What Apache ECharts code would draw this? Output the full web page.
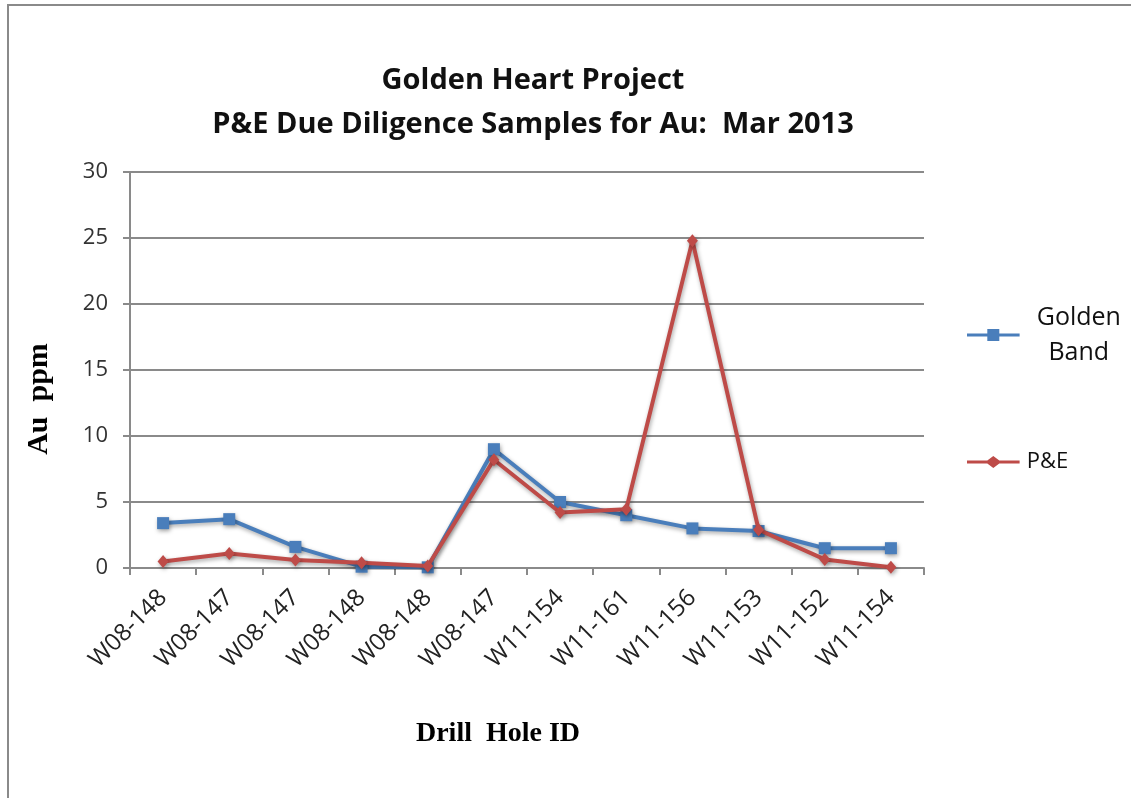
<!DOCTYPE html>
<html>
<head>
<meta charset="utf-8">
<title>Golden Heart Project</title>
<script src="https://cdn.jsdelivr.net/npm/echarts@6/dist/echarts.min.js"></script>
<style>
  html, body { margin: 0; padding: 0; background: #fff; }
  #main { width: 1131px; height: 798px; }
</style>
</head>
<body>
<div id="main"></div>
<script>
// drill hole ids along the x axis
var holeIds = ['W08-148', 'W08-147', 'W08-147', 'W08-148', 'W08-148', 'W08-147',
               'W11-154', 'W11-161', 'W11-156', 'W11-153', 'W11-152', 'W11-154'];
// Au ppm
var goldenBand = [3.4, 3.7, 1.6, 0.1, 0.05, 9.0, 5.0, 4.0, 3.0, 2.8, 1.5, 1.5];
var pAndE = [0.5, 1.1, 0.6, 0.4, 0.15, 8.2, 4.2, 4.45, 24.8, 2.9, 0.65, 0.05];
var yTicks = [0, 5, 10, 15, 20, 25, 30];

var dom = document.getElementById('main');
var myChart = echarts.init(dom);

var gray = '#8a8a8a';
var shadow = { shadowColor: 'rgba(0,0,0,0.35)', shadowBlur: 4, shadowOffsetX: 1, shadowOffsetY: 2 };

var option = {
    animation: false,
    backgroundColor: '#fff',
    graphic: [{
        type: 'rect',
        shape: { x: 8, y: 5, width: 1200, height: 900 },
        style: { fill: null, stroke: gray, lineWidth: 2 },
        silent: true
    }],
    title: {
        text: 'Golden Heart Project\nP&E Due Diligence Samples for Au:  Mar 2013',
        left: 528,
        top: 54,
        textAlign: 'center',
        textStyle: {
            fontFamily: 'Open Sans',
            fontWeight: 'bold',
            fontSize: 29,
            lineHeight: 44,
            color: '#111'
        }
    },
    legend: {
        orient: 'vertical',
        left: 962,
        top: 300,
        itemGap: 86,
        itemWidth: 57,
        itemHeight: 12,
        data: [
            { name: 'Golden Band', icon: 'path://M0,5 L22,5 L22,0 L35,0 L35,5 L57,5 L57,8 L35,8 L35,13 L22,13 L22,8 L0,8 Z' },
            { name: 'P&E', icon: 'path://M0,5 L22,5 L28.5,0 L35,5 L57,5 L57,8 L35,8 L28.5,13 L22,8 L0,8 Z' }
        ],
        formatter: function (name) {
            if (name === 'Golden Band') {
                return '{c|Golden}\n{c|Band}';
            }
            return '{p|' + name + '}';
        },
        textStyle: {
            rich: {
                c: { fontFamily: 'Open Sans', fontSize: 25, color: '#111', align: 'center', width: 104, lineHeight: 35 },
                p: { fontFamily: 'Open Sans', fontSize: 22, color: '#111', lineHeight: 35 }
            }
        }
    },
    grid: {
        left: 130,
        right: 207,
        top: 172,
        bottom: 230
    },
    xAxis: {
        type: 'category',
        data: holeIds,
        boundaryGap: true,
        name: 'Drill  Hole ID',
        nameLocation: 'middle',
        nameGap: 152,
        nameTextStyle: {
            fontFamily: 'Liberation Serif',
            fontWeight: 'bold',
            fontSize: 28,
            color: '#000',
            padding: [0, 58, 0, 0]
        },
        axisLine: { lineStyle: { color: gray, width: 2 } },
        axisTick: { show: true, length: 7, lineStyle: { color: gray, width: 2 } },
        axisLabel: {
            interval: 0,
            rotate: 45,
            margin: 26,
            fontFamily: 'Open Sans',
            fontSize: 24,
            color: '#222'
        }
    },
    yAxis: {
        type: 'value',
        min: yTicks[0],
        max: yTicks[yTicks.length - 1],
        interval: yTicks[1] - yTicks[0],
        name: 'Au  ppm',
        nameLocation: 'middle',
        nameGap: 76,
        nameRotate: 90,
        nameTextStyle: {
            fontFamily: 'Liberation Serif',
            fontWeight: 'bold',
            fontSize: 30,
            color: '#000',
            padding: [0, 58, 0, 0]
        },
        axisLine: { show: true, lineStyle: { color: gray, width: 2 } },
        axisTick: { show: true, length: 7, lineStyle: { color: gray, width: 2 } },
        axisLabel: {
            margin: 22,
            fontFamily: 'Open Sans',
            fontSize: 22,
            color: '#333'
        },
        splitLine: { lineStyle: { color: gray, width: 2 } }
    },
    series: [
        {
            name: 'Golden Band',
            type: 'line',
            data: goldenBand,
            symbol: 'rect',
            symbolSize: 12,
            color: '#4a7ebb',
            lineStyle: Object.assign({ width: 4, color: '#4a7ebb' }, shadow),
            itemStyle: Object.assign({ color: '#4a7ebb' }, shadow),
            z: 2
        },
        {
            name: 'P&E',
            type: 'line',
            data: pAndE,
            symbol: 'diamond',
            symbolSize: [11, 13],
            color: '#be4b48',
            lineStyle: Object.assign({ width: 4, color: '#be4b48' }, shadow),
            itemStyle: Object.assign({ color: '#be4b48' }, shadow),
            z: 3
        }
    ]
};

if (option && typeof option === 'object') {
    myChart.setOption(option);
}
</script>
</body>
</html>
